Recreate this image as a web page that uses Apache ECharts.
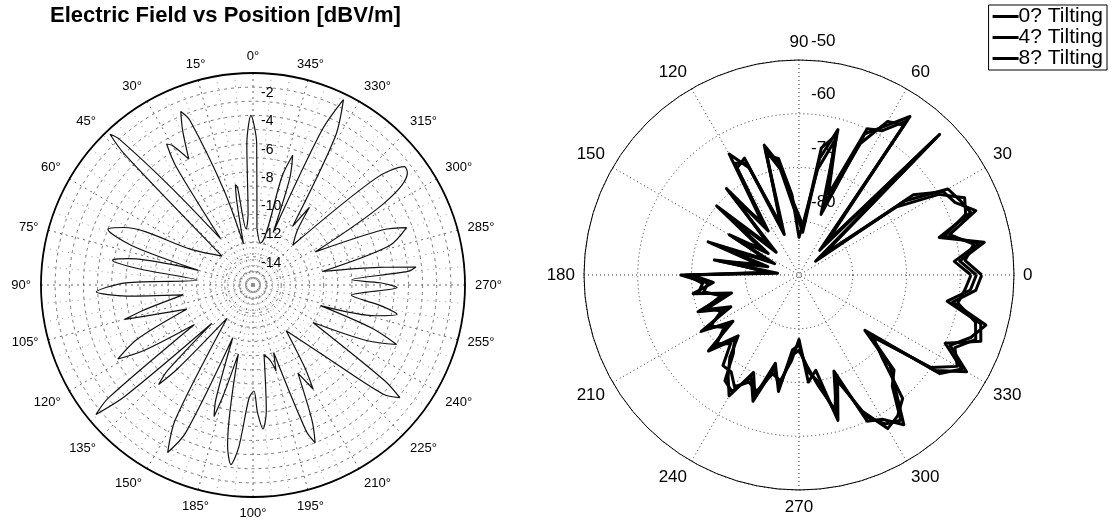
<!DOCTYPE html>
<html>
<head>
<meta charset="utf-8">
<script src="https://cdn.jsdelivr.net/npm/echarts@6/dist/echarts.min.js"></script>
<style>
html,body{margin:0;padding:0;background:#fff;}
#chart{width:1114px;height:525px;}
</style>
</head>
<body>
<div id="chart"></div>
<script>
// ---------- Left chart: Electric Field vs Position ----------
const leftTitle = 'Electric Field vs Position [dBV/m]';
const leftAngleTicks = [0,15,30,45,60,75,90,105,120,135,150,165,180,195,210,225,240,255,270,285,300,315,330,345];
const leftAngleLabels = ['0°','15°','30°','45°','60°','75°','90°','105°','120°','135°','150°','185°','100°','195°','210°','225°','240°','255°','270°','285°','300°','315°','330°','345°'];
const leftRadiusTicks = [-2,-4,-6,-8,-10,-12,-14];
const leftAngles = [356,358.5,360.7,362.5,364,367,369,370,371,373,377,381,382.6,384.5,387,390,391.5,393,395,
  400,402.5,403.5,404.5,407,420,426,429,432,435,438,440,442,445,449,452.5,455,458,463,465,467,470,
  475,478.7,481,484,488,489.5,491,493,495,496.5,498,502,510,513,515.5,519,522,523.5,525,528,
  531,533,535,538,540.5,542,544,546,549,553,555,557,560,561.5,563.5,567,570,572,576,
  585,590,592.5,594,598,604,607.5,610,613,616,618.5,621,624,629,631,633,635,636.3,638,641,
  646,650.5,653,658,662,666,668,671,675,681,684,686,691,694,696,699,701,703,705,710,716];
const leftValues = [-11,-5,-3.0,-5,-10,-11,-8,-7.8,-9,-12,-8,-2.5,-1.7,-3,-5,-3.6,-3.3,-5,-11,
  -6,-1,-0.3,-2,-12,-10,-5,-4,-6,-11,-6,-4.9,-7,-11,-6,-3.9,-6,-10,-7,-5.6,-8,-10,
  -6,-4.1,-6,-10,-2,-0.6,-3,-11,-6.5,-5.3,-7,-12,-4,-1.7,-3.5,-11,-6.5,-5.3,-7,-10,
  -3.5,-2.2,-3.5,-7,-7.5,-6,-4.8,-6,-10,-9.5,-8.7,-10,-4,-3.0,-4.5,-8,-6.5,-8,-11,
  -8,-3,-1.9,-3.5,-10,-6,-4.0,-6,-10,-6,-4.6,-6,-8,-4.8,-6,-8,-4,-3.4,-6,-10,
  -5,-3.4,-5,-10,-4,-1.5,-1.4,-3.5,-11,-10,-8.2,-10,-3,-0.4,-3,-11,-7,-5.4,-7,-12,-11];

// ---------- Right chart: tilting comparison ----------
const rightAngleTicks = [0,30,60,90,120,150,180,210,240,270,300,330];
const rightRadiusTicks = [-50,-60,-70,-80];
const rightAngles = [0,5,10,15,20,25,30,35,40,45,50,55,60,65,70,75,80,85,90,95,100,105,110,115,120,125,130,135,140,145,150,155,160,165,170,175,180,185,190,195,200,205,210,215,220,225,230,235,240,245,250,255,260,265,270,275,280,285,290,295,300,305,310,315,320,325,330,335,340,345,350,355,360];
const tilt0 = [-57,-60,-55,-63,-56,-57,-58,-66,-86,-53,-84,-54,-58,-61,-78,-62,-68,-82,-80,-77,-70,-66,-82,-67,-66,-80,-70,-84,-72,-83,-76,-85,-74,-84,-75,-86,-69,-72,-71,-76,-70,-75,-70,-74,-69,-74,-70,-67,-64,-70,-66,-73,-68,-76,-77,-72,-70,-63,-71,-60,-59,-56,-62,-66,-74,-58,-55,-60,-54,-55,-62,-58,-57];
const tilt4 = [-58,-61,-56,-62,-57,-56,-60,-68,-84,-55,-82,-56,-57,-63,-76,-64,-70,-80,-83,-75,-68,-67,-80,-68,-64,-78,-72,-82,-70,-81,-78,-83,-72,-82,-77,-84,-70,-74,-70,-77,-72,-74,-71,-73,-70,-72,-68,-68,-66,-68,-67,-71,-70,-74,-78,-70,-72,-62,-69,-62,-57,-58,-60,-68,-72,-60,-56,-58,-55,-56,-60,-59,-58];
const tilt8 = [-56,-59,-57,-61,-55,-58,-59,-64,-85,-54,-83,-55,-59,-60,-74,-63,-66,-81,-79,-76,-69,-65,-81,-66,-67,-79,-69,-83,-73,-82,-75,-84,-75,-83,-74,-85,-68,-73,-72,-75,-71,-76,-69,-75,-68,-73,-71,-66,-65,-69,-65,-72,-69,-75,-76,-73,-69,-64,-70,-61,-58,-57,-63,-65,-73,-59,-54,-59,-56,-54,-61,-57,-56];
const seriesNames = ['0? Tilting','4? Tilting','8? Tilting'];

const chart = echarts.init(document.getElementById('chart'));
const toPolar = (vals, angs) => vals.map((v, i) => [v, angs[i]]);
const font = 'Liberation Sans, Arial, sans-serif';

const rightSeries = [tilt0, tilt4, tilt8].map((vals, i) => ({
  name: seriesNames[i], type: 'line', coordinateSystem: 'polar', polarIndex: 1,
  data: toPolar(vals, rightAngles), symbol: 'none', smooth: false,
  lineStyle: { color: '#000', width: 3, join: 'round' }, itemStyle: { color: '#000' }
}));

chart.setOption({
  animation: false,
  backgroundColor: '#fff',
  title: {
    text: leftTitle, left: 45, top: 0,
    textStyle: { fontSize: 22, fontWeight: 'bold', color: '#000', fontFamily: font }
  },
  legend: {
    data: seriesNames, orient: 'vertical', right: 7, top: 5, icon: 'rect',
    backgroundColor: '#fff', borderColor: '#000', borderWidth: 1, borderRadius: 0,
    padding: [1, 4, 1, 4], itemGap: 0, itemWidth: 26, itemHeight: 3,
    textStyle: { fontSize: 21, color: '#000', fontFamily: font, padding: [0,0,0,-5] }
  },
  polar: [
    { center: [253, 285], radius: 212 },
    { center: [799, 275], radius: 215 },
    { center: [799, 275], radius: 215 }
  ],
  angleAxis: [
    { polarIndex: 0, type: 'value', min: 0, max: 360, interval: 15, startAngle: 90, clockwise: false,
      axisLine: { lineStyle: { color: '#000', width: 1.8 } }, axisTick: { show: false },
      minorTick: { show: false, splitNumber: 3 },
      minorSplitLine: { show: true, lineStyle: { type: [1, 5], color: '#999', width: 1 } },
      axisLabel: { margin: 10, fontSize: 13, color: '#000', fontFamily: font,
        formatter: v => { const i = leftAngleTicks.indexOf(v); return i >= 0 ? leftAngleLabels[i] : ''; } },
      splitLine: { lineStyle: { type: [2, 4], color: '#666', width: 1 } } },
    { polarIndex: 1, type: 'value', min: 0, max: 360, interval: 30, startAngle: 0, clockwise: false,
      axisLine: { lineStyle: { color: '#000', width: 1 } }, axisTick: { show: false },
      axisLabel: { margin: 9, fontSize: 17, color: '#000', fontFamily: font,
        formatter: v => rightAngleTicks.indexOf(v) >= 0 ? String(v) : '' },
      splitLine: { lineStyle: { type: [1, 3], color: '#333', width: 1 } } },
    { polarIndex: 2, type: 'value', min: 0, max: 360, startAngle: 90, clockwise: false, show: false }
  ],
  radiusAxis: [
    { polarIndex: 0, type: 'value', min: -15, max: 0, interval: 1,
      axisLine: { show: false }, axisTick: { show: false },
      axisLabel: { fontSize: 14, color: '#000', fontFamily: font, margin: -8,
        align: 'left', verticalAlign: 'bottom', lineHeight: 16,
        formatter: v => leftRadiusTicks.indexOf(v) >= 0 ? String(v) : '' },
      splitLine: { lineStyle: { type: [3, 4], color: '#777', width: 1 } } },
    { polarIndex: 1, type: 'value', min: -90, max: -50, interval: 10,
      axisLine: { show: false }, axisTick: { show: false }, axisLabel: { show: false },
      splitLine: { lineStyle: { type: [1, 3], color: '#333', width: 1 } } },
    { polarIndex: 2, type: 'value', min: -90, max: -50, interval: 10,
      axisLine: { show: false }, axisTick: { show: false }, splitLine: { show: false },
      axisLabel: { fontSize: 17, color: '#000', fontFamily: font, margin: -12,
        align: 'left', verticalAlign: 'bottom', lineHeight: 38,
        formatter: v => rightRadiusTicks.indexOf(v) >= 0 ? String(v) : '' } }
  ],
  series: [
    { name: 'Electric Field', type: 'line', coordinateSystem: 'polar', polarIndex: 0,
      data: toPolar(leftValues, leftAngles), symbol: 'none', smooth: 0.3,
      lineStyle: { color: '#111', width: 1.2 } }
  ].concat(rightSeries)
});
</script>
</body>
</html>
